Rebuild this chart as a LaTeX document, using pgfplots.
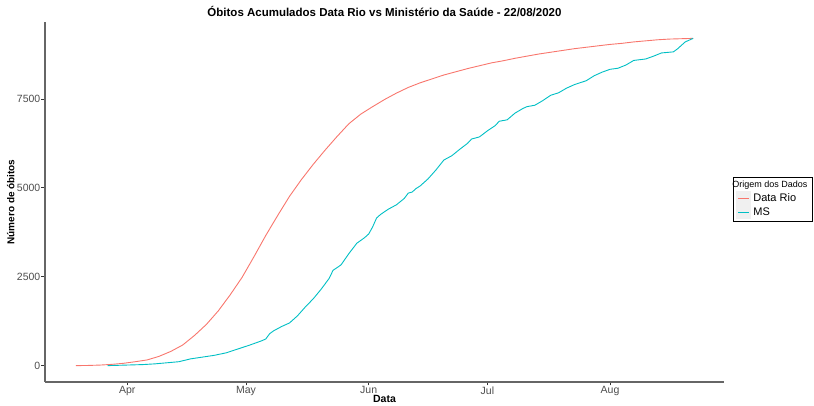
\documentclass[border=0pt]{standalone}
\usepackage{pgfplots}
\pgfplotsset{compat=1.18}
\usepackage{fontspec}
\setmainfont{Liberation Sans}
\definecolor{gred}{HTML}{F8766D}
\definecolor{gcyan}{HTML}{00BFC4}
\definecolor{tickgray}{HTML}{4D4D4D}
\begin{document}
\begin{tikzpicture}
\begin{axis}[
  at={(0pt,0pt)}, anchor=south west,
  scale only axis, width=679pt, height=360pt,
  xmin=-20.8, xmax=150.8, ymin=-460, ymax=9660,
  axis x line*=bottom, axis y line*=left,
  axis line style={black!60, line width=1.1pt, -},
  xtick={0,30,61,91,122}, xticklabels={Apr,May,Jun,Jul,Aug},
  ytick={0,2500,5000,7500},
  yticklabels={0,2500,5000,7500},
  tick style={black!80, line width=0.6pt},
  tick align=outside, major tick length=3.5pt,
  yticklabel style={font=\fontsize{10.5}{12}\selectfont, text=tickgray, anchor=east, inner xsep=1pt},
  xticklabel style={font=\fontsize{10.5}{12}\selectfont, text=tickgray, anchor=north, inner ysep=1pt},
  title={Óbitos Acumulados Data Rio vs Ministério da Saúde - 22/08/2020},
  title style={font=\bfseries\fontsize{11.5}{13}\selectfont, at={(axis description cs:0.5,1)}, anchor=south, yshift=-1pt, inner sep=0pt},
  xlabel={Data}, ylabel={Número de óbitos},
  xlabel style={font=\bfseries\fontsize{10.5}{12}\selectfont, at={(axis description cs:0.5,-0.048)}, anchor=center},
  ylabel style={font=\bfseries\fontsize{10}{12}\selectfont, at={(axis description cs:-0.0505,0.5)}, anchor=center},
  legend style={at={(1.0133,0.569)}, anchor=north west, draw=black, line width=0.6pt,
    font=\fontsize{11}{13}\selectfont, row sep=0pt, inner xsep=3pt, inner ysep=2pt},
  legend cell align=left,
  legend image code/.code={
    \fill[fill=black!6, draw=none] (0pt,-7pt) rectangle (15pt,7pt);
    \draw[#1, line width=0.9pt] (2pt,0pt) -- (13pt,0pt);
  },
]
\addlegendimage{empty legend}
\addlegendentry{\hspace{-21pt}\fontsize{9}{11}\selectfont Origem dos Dados}
\addplot[gred, line width=0.9pt] coordinates {
(-13,0) (-10,5) (-7,15) (-4,35) (-1,65) (2,110) (5,160) (8,260) (11,400) (14,580)
(17,850) (20,1160) (23,1540) (26,1990) (29,2480) (32,3060) (35,3660) (38,4220)
(41,4760) (44,5230) (47,5660) (50,6060) (53,6440) (56,6800) (59,7070) (62,7280)
(65,7480) (68,7660) (71,7820) (74,7950) (77,8060) (80,8170) (83,8260) (86,8350)
(89,8430) (92,8510) (95,8570) (98,8640) (101,8700) (104,8760) (107,8810) (110,8860)
(113,8910) (116,8950) (119,8990) (122,9030) (125,9060) (128,9100) (131,9130)
(134,9160) (137,9180) (140,9190) (143,9200)
};
\addlegendentry{Data Rio}
\addplot[gcyan, line width=0.9pt] coordinates {
(-5,0) (-2,10) (1,20) (4,30) (7,50) (10,80) (13,110) (16,190) (19,240) (22,290)
(25,360) (28,470) (31,580) (34,700) (35,750) (36,900) (37,980) (39,1100) (41,1200)
(43,1400) (45,1650) (47,1880) (49,2150) (51,2450) (52,2680) (54,2830) (56,3150)
(58,3440) (60,3600) (61,3700) (62,3900) (63,4150) (64,4250) (66,4400) (68,4520)
(70,4700) (71,4850) (72,4880) (73,4980) (74,5050) (76,5250) (78,5500) (80,5780)
(82,5900) (84,6080) (86,6250) (87,6370) (89,6430) (91,6600) (93,6750) (94,6870)
(96,6910) (98,7100) (100,7230) (101,7280) (103,7320) (105,7450) (107,7600)
(109,7670) (111,7800) (113,7900) (116,8010) (118,8150) (120,8250) (122,8330)
(124,8360) (126,8450) (128,8580) (131,8620) (133,8700) (135,8790) (138,8820)
(139,8900) (141,9100) (143,9200)
};
\addlegendentry{MS}
\end{axis}
\pgfresetboundingbox
\path (-45pt,-24pt) rectangle (769pt,382pt);
\end{tikzpicture}
\end{document}
